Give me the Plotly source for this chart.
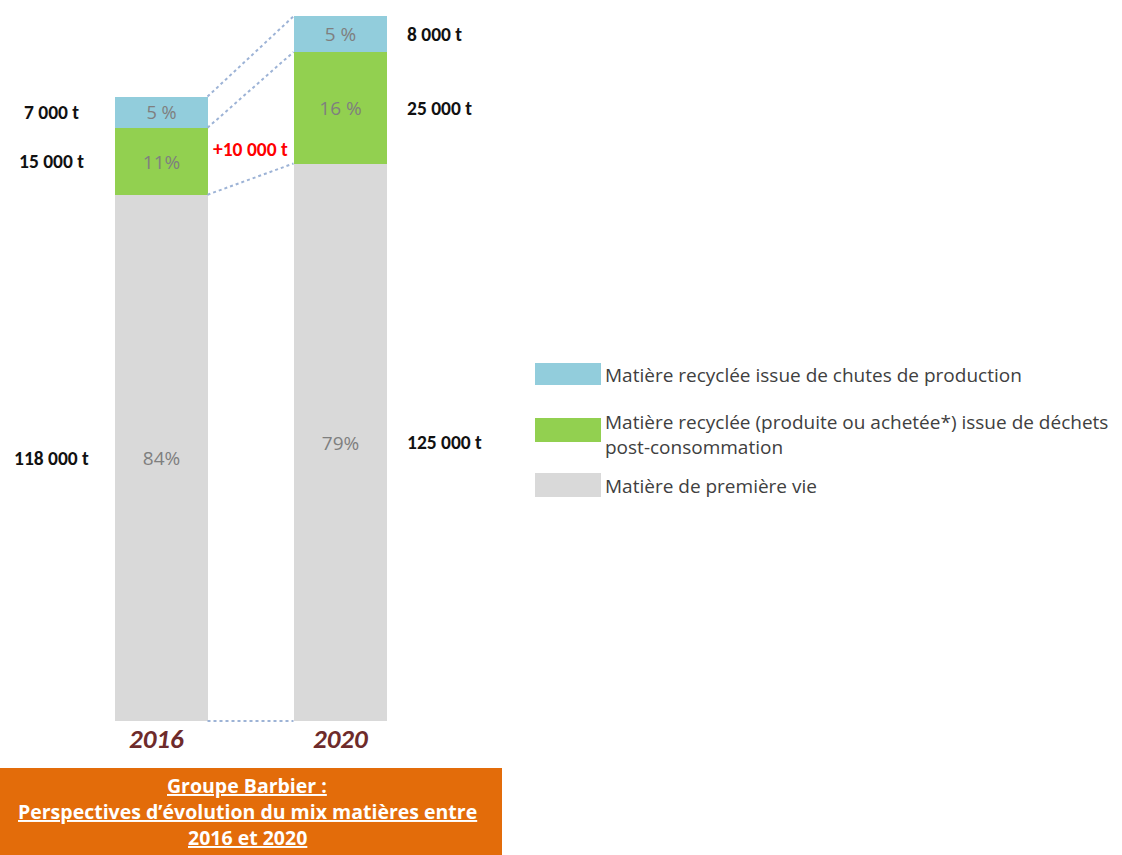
import plotly.graph_objects as go

# ---------------- data ----------------
years = ["2016", "2020"]
premiere_vie = [118000, 125000]
post_conso = [15000, 25000]
chutes = [7000, 8000]
pct_premiere = ["84%", "79%"]
pct_post = ["11%", "16 %"]
pct_chutes = ["5 %", "5 %"]
legend_labels = [
    ["Matière recyclée issue de chutes de production"],
    ["Matière recyclée (produite ou achetée*) issue de déchets", "post-consommation"],
    ["Matière de première vie"],
]
title_lines = ["Groupe Barbier :",
               "Perspectives d’évolution du mix matières entre",
               "2016 et 2020"]

# ---------------- style ----------------
W, H = 1122, 855
C_BLUE = "#92CDDC"
C_GREEN = "#92D050"
C_GRAY = "#D9D9D9"
C_DOT = "#9DB3D6"
C_ORANGE = "#E36C0A"
C_YEAR = "#6E2B2B"
FONT = "Carlito, Calibri, Lato, sans-serif"
FONT2 = "Open Sans, sans-serif"

BAR_CENTERS_PX = [161, 340]
BAR_W_PX = 93
ZERO_PX = 721
PX_PER_T = 0.00446

unit = BAR_CENTERS_PX[1] - BAR_CENTERS_PX[0]
x_range = [-BAR_CENTERS_PX[0] / unit, (W - BAR_CENTERS_PX[0]) / unit]
y_range = [-(H - ZERO_PX) / PX_PER_T, ZERO_PX / PX_PER_T]
bw = BAR_W_PX / unit
xs = [0, 1]


def px2x(px):
    return (px - BAR_CENTERS_PX[0]) / unit


def py2y(py):
    return (ZERO_PX - py) / PX_PER_T


def fmt_t(v):
    return f"{v:,}".replace(",", " ") + " t"


fig = go.Figure()
for vals, col, pct in [(premiere_vie, C_GRAY, pct_premiere),
                       (post_conso, C_GREEN, pct_post),
                       (chutes, C_BLUE, pct_chutes)]:
    fig.add_trace(go.Bar(
        x=xs, y=vals, width=bw, marker=dict(color=col, line=dict(width=0)),
        text=pct, textposition="inside", insidetextanchor="middle",
        textfont=dict(color="#7F7F7F", size=19, family=FONT2),
        showlegend=False, hoverinfo="skip"))

# connector dotted lines between boundaries
for i in range(4):
    levels = []
    for j in range(2):
        segs = [0, premiere_vie[j], post_conso[j], chutes[j]]
        levels.append(sum(segs[: i + 1]))
    fig.add_trace(go.Scatter(
        x=[xs[0] + bw / 2, xs[1] - bw / 2], y=levels, mode="lines",
        line=dict(color=C_DOT, width=2, dash="dot"),
        showlegend=False, hoverinfo="skip"))

ann = []
# tonnage labels
for j, (xpos, anchor) in enumerate([(px2x(51), "center"), (px2x(405), "left")]):
    base = 0
    for v in [premiere_vie[j], post_conso[j], chutes[j]]:
        ann.append(dict(x=xpos, y=base + v / 2, xref="x", yref="y",
                        text="<b>" + fmt_t(v) + "</b>", showarrow=False,
                        xanchor=anchor,
                        font=dict(size=19.5, color="#111111", family=FONT)))
        base += v

# difference label
diff = post_conso[1] - post_conso[0]
ann.append(dict(x=0.5, y=py2y(149), xref="x", yref="y",
                text="<b>+" + fmt_t(diff) + "</b>", showarrow=False,
                font=dict(size=19.5, color="#FF0000", family=FONT)))

# year labels (italic text visually sits slightly left of the bar centre)
for j, yr in enumerate(years):
    ann.append(dict(x=xs[j], y=py2y(738), xref="x", yref="y",
                    text="<b><i>" + yr + "</i></b>", showarrow=False,
                    xshift=-5 if j == 0 else 0,
                    font=dict(size=27, color=C_YEAR, family=FONT)))

shapes = []
# legend
legend_boxes = [(363, 385, C_BLUE), (418, 442, C_GREEN), (473, 497, C_GRAY)]
legend_text_y = [[375], [422, 447], [486]]
for (y0, y1, col), lines, tys in zip(legend_boxes, legend_labels, legend_text_y):
    shapes.append(dict(type="rect", xref="paper", yref="paper",
                       x0=535 / W, x1=601 / W, y0=1 - y1 / H, y1=1 - y0 / H,
                       fillcolor=col, line=dict(width=0)))
    for lab, ty in zip(lines, tys):
        ann.append(dict(x=603 / W, y=1 - ty / H, xref="paper", yref="paper",
                        text=lab, showarrow=False, xanchor="left", yanchor="middle",
                        align="left",
                        font=dict(size=19, color="#404040", family=FONT2)))

# orange title box
shapes.append(dict(type="rect", xref="paper", yref="paper",
                   x0=0, x1=502 / W, y0=0, y1=1 - 768 / H,
                   fillcolor=C_ORANGE, line=dict(width=0)))
for t, ty in zip(title_lines, [785, 811, 837]):
    ann.append(dict(x=247 / W, y=1 - ty / H, xref="paper", yref="paper",
                    text="<b><u>" + t + "</u></b>",
                    showarrow=False, align="center", xanchor="center",
                    yanchor="middle",
                    font=dict(size=19.5, color="white", family=FONT2)))

fig.update_layout(
    width=W, height=H, margin=dict(l=0, r=0, t=0, b=0),
    paper_bgcolor="white", plot_bgcolor="white",
    barmode="stack", bargap=0,
    xaxis=dict(range=x_range, visible=False, fixedrange=True),
    yaxis=dict(range=y_range, visible=False, fixedrange=True),
    annotations=ann, shapes=shapes, showlegend=False,
    uniformtext=dict(mode=False),
)

fig.write_html("out.html", config={"displayModeBar": False},
               post_script="document.body.style.margin='0';")
